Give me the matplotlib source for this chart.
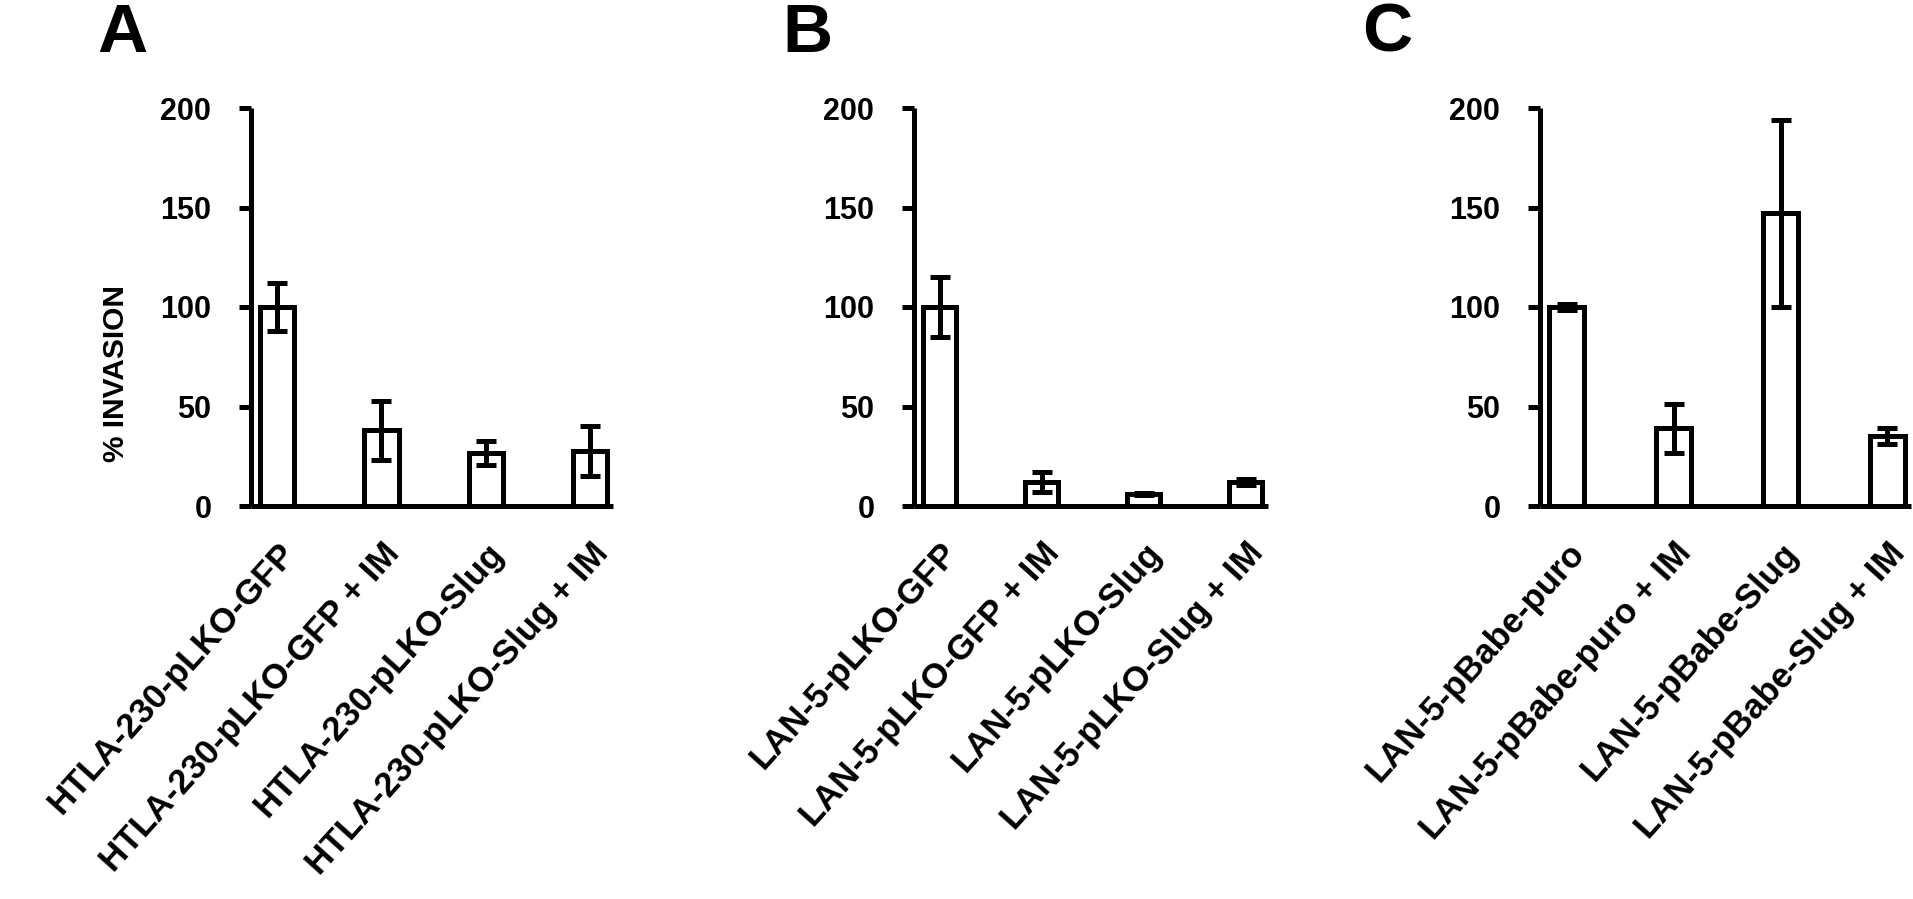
import matplotlib
matplotlib.use("Agg")
import matplotlib.pyplot as plt
import numpy as np

plt.rcParams['font.family'] = ['Liberation Sans', 'DejaVu Sans']
plt.rcParams['font.weight'] = 'bold'

# panel A - HTLA-230
labels_a = ["HTLA-230-pLKO-GFP", "HTLA-230-pLKO-GFP + IM",
            "HTLA-230-pLKO-Slug", "HTLA-230-pLKO-Slug + IM"]
vals_a = [100, 38, 26.5, 27.5]
err_a = [12, 15, 6, 12.5]

# panel B - LAN-5 knockdown
labels_b = ["LAN-5-pLKO-GFP", "LAN-5-pLKO-GFP + IM",
            "LAN-5-pLKO-Slug", "LAN-5-pLKO-Slug + IM"]
vals_b = [100, 12, 6, 12]
err_b = [15, 5, 0.4, 1.5]

# panel C - LAN-5 overexpression
labels_c = ["LAN-5-pBabe-puro", "LAN-5-pBabe-puro + IM",
            "LAN-5-pBabe-Slug", "LAN-5-pBabe-Slug + IM"]
vals_c = [100, 39, 147, 35]
err_c = [1.5, 12.5, 47, 4]

yticks = [0, 50, 100, 150, 200]

W, H = 1913, 899
fig = plt.figure(figsize=(W / 100, H / 100), dpi=100)

lw = 3.6  # ~5 px lines

def px_rect(x0, x1, y_top, y_bot):
    return [x0 / W, (H - y_bot) / H, (x1 - x0) / W, (y_bot - y_top) / H]

def panel(rect, labels, vals, errs, letter, letter_x):
    ax = fig.add_axes(rect)
    x = np.arange(len(vals))
    ax.bar(x, vals, width=0.33, color='white', edgecolor='black',
           linewidth=lw, zorder=2)
    ax.errorbar(x, vals, yerr=errs, fmt='none', ecolor='black',
                elinewidth=lw, capsize=7.5, capthick=lw, zorder=3)
    ax.set_xlim(-0.25, 3.22)
    ax.set_ylim(0, 200)
    ax.set_yticks(yticks)
    ax.set_xticks(x)
    ax.set_xticklabels(labels, rotation=48, ha='right', va='top',
                       rotation_mode='anchor', fontsize=25, fontweight='bold')
    for s in ['top', 'right']:
        ax.spines[s].set_visible(False)
    for s in ['left', 'bottom']:
        ax.spines[s].set_linewidth(lw)
        ax.spines[s].set_capstyle('butt')
    ax.tick_params(axis='y', length=8.6, width=lw, labelsize=22, pad=20)
    ax.tick_params(axis='x', length=0, pad=22)
    for t in ax.get_yticklabels():
        t.set_fontweight('bold')
    fig.text(letter_x / W, 1 - 2 / H, letter, fontsize=50, fontweight='bold',
             ha='left', va='top')
    return ax

ax_a = panel(px_rect(251, 613, 108, 506), labels_a, vals_a, err_a, "A", 97)
ax_b = panel(px_rect(914, 1268, 108, 506), labels_b, vals_b, err_b, "B", 782)
ax_c = panel(px_rect(1540, 1911, 108, 506), labels_c, vals_c, err_c, "C", 1362)

fig.text(116 / W, 1 - 374 / H, "% INVASION", rotation=90, fontsize=21.5,
         fontweight='bold', ha='center', va='center')

fig.savefig("out.png", dpi=100, facecolor='white')
